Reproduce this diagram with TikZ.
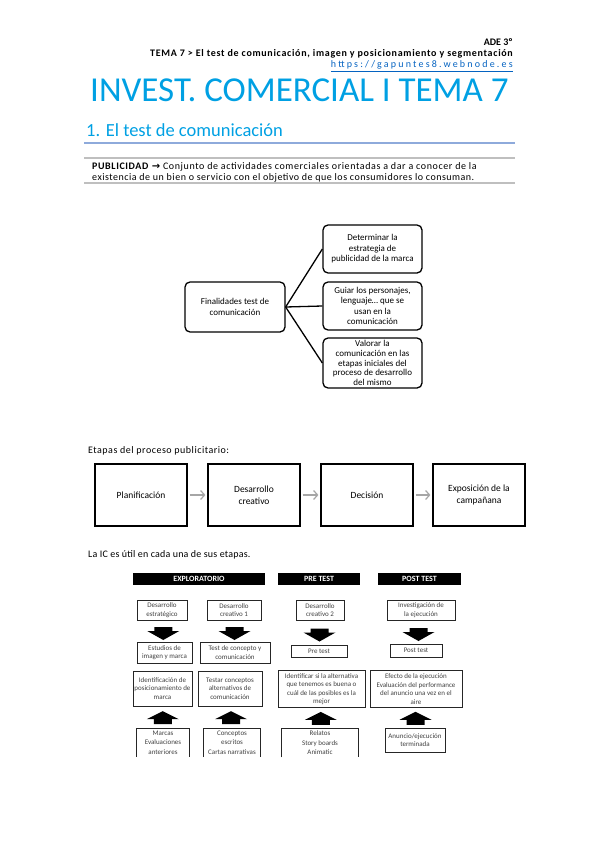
\documentclass[tikz,border=0pt]{standalone}
\usepackage{fontspec}
\setmainfont{Carlito}
\newfontfamily\symfont{DejaVu Sans}
\usetikzlibrary{arrows.meta,calc}
\definecolor{titleblue}{RGB}{0,160,227}
\definecolor{linkblue}{RGB}{5,99,193}
\definecolor{rulegrey}{RGB}{191,191,191}
\definecolor{headblue}{RGB}{142,170,219}
\definecolor{arrowgrey}{RGB}{166,166,166}
\newcommand{\spaced}[1]{\addfontfeature{LetterSpace=#1}}
\begin{document}
\begin{tikzpicture}[x=1pt,y=-1pt,
	line/.style={anchor=base west,inner sep=0pt,font=\fontsize{10}{11}\selectfont},
	head/.style={anchor=base east,inner sep=0pt,font=\bfseries\fontsize{10}{11}\selectfont},
	treebox/.style={draw,line width=1.3pt,rounded corners=5pt,align=center,inner sep=0pt,font=\fontsize{9}{10.5}\selectfont},
	stagebox/.style={draw,line width=1.2pt,minimum width=92pt,minimum height=62pt,align=center,font=\fontsize{9.5}{12}\selectfont},
	stagearrow/.style={draw=arrowgrey,line width=1.2pt,shorten <=2pt,shorten >=2pt,-{Straight Barb[length=4pt,width=9pt]}},
	headbar/.style={fill=black,text=white,minimum height=12pt,inner sep=0pt,font=\bfseries\fontsize{8}{9}\selectfont},
	cell/.style={draw=black!85,line width=0.9pt,align=center,inner sep=0.5pt,text=black!75,font=\fontsize{7}{8.5}\selectfont},
	opencell/.style={align=center,inner sep=2.5pt,anchor=north,text=black!75,font=\fontsize{7}{9.5}\selectfont}]
	\useasboundingbox (0,0) rectangle (599,848);
	% cabecera
	\node[head] (ade) at (513,46) {ADE 3º};
	\node[head] (tema) at (513,57) {\spaced{7}TEMA 7 > El test de comunicación, imagen y posicionamiento y segmentación};
	\node[head,font=\fontsize{10}{11}\selectfont,text=linkblue] (web) at (513,68) {\underline{\spaced{22}https://gapuntes8.webnode.es}};
	\node[line,font=\fontsize{35}{40}\selectfont,text=titleblue] (title) at (90,102) {INVEST. COMERCIAL I TEMA 7};
	\node[line,font=\fontsize{18.5}{22}\selectfont,text=titleblue] (sec) at (86,136) {1. El test de comunicación};
	\draw[headblue,line width=1.5pt] (84,143) -- (515,143);
	\draw[rulegrey,line width=1.5pt] (84,158) -- (515,158);
	\draw[rulegrey,line width=1.5pt] (84,183) -- (515,183);
	\node[line] (def1) at (92,169) {\spaced{6}\textbf{PUBLICIDAD} {\symfont\bfseries →} Conjunto de actividades comerciales orientadas a dar a conocer de la};
	\node[line] (def2) at (92,180) {\spaced{5}existencia de un bien o servicio con el objetivo de que los consumidores lo consuman.};
	% finalidades
	\node[treebox,minimum width=100pt,minimum height=50pt] (fin) at (235,307) {Finalidades test de\\comunicación};
	\node[treebox,minimum width=99pt,minimum height=48pt] (det) at (372.5,249) {Determinar la\\estrategia de\\publicidad de la marca};
	\node[treebox,minimum width=99pt,minimum height=48pt] (gui) at (372.5,306) {Guiar los personajes,\\lenguaje… que se\\usan en la\\comunicación};
	\node[treebox,minimum width=99pt,minimum height=50pt,font=\fontsize{9}{9.6}\selectfont] (val) at (372.5,363) {Valorar la\\comunicación en las\\etapas iniciales del\\proceso de desarrollo\\del mismo};
	\draw[line width=1.3pt] (fin.east) -- (det.west);
	\draw[line width=1.3pt] (fin.east) -- (gui.west);
	\draw[line width=1.3pt] (fin.east) -- (val.west);
	% etapas
	\node[line] (etapas) at (88,453) {\spaced{5}Etapas del proceso publicitario:};
	\node[stagebox] (plan) at (141,495) {Planificación};
	\node[stagebox] (crea) at (254,495) {Desarrollo\\creativo};
	\node[stagebox] (deci) at (367,495) {Decisión};
	\node[stagebox] (expo) at (479,495) {Exposición de la\\campañana};
	\draw[stagearrow] (plan) -- (crea);
	\draw[stagearrow] (crea) -- (deci);
	\draw[stagearrow] (deci) -- (expo);
	\node[line] (ic) at (88,557) {\spaced{2}La IC es útil en cada una de sus etapas.};
	% tabla
	\node[headbar,minimum width=132pt] (expl) at (199,579) {EXPLORATORIO};
	\node[headbar,minimum width=82pt] (pret) at (319,579) {PRE TEST};
	\node[headbar,minimum width=83pt] (post) at (419.5,579) {POST TEST};
	\node[cell,minimum width=50pt,minimum height=20pt] (dest) at (162,610) {Desarrollo\\estratégico};
	\node[cell,minimum width=54pt,minimum height=20pt] (dcre1) at (234,610) {Desarrollo\\creativo 1};
	\node[cell,minimum width=48pt,minimum height=20pt] (dcre2) at (320,610) {Desarrollo\\creativo 2};
	\node[cell,minimum width=68pt,minimum height=20pt] (iejec) at (421,610) {Investigación de\\la ejecución};
	\node[cell,minimum width=55pt,minimum height=21pt] (estu) at (164.5,652.5) {Estudios de\\imagen y marca};
	\node[cell,minimum width=70pt,minimum height=21pt] (tcon) at (235,652.5) {Test de concepto y\\comunicación};
	\node[cell,minimum width=56pt,minimum height=12pt] (ptest) at (319,651) {Pre test};
	\node[cell,minimum width=52pt,minimum height=13pt] (potest) at (416,650.5) {Post test};
	\node[cell,minimum width=59pt,minimum height=35pt] (ipos) at (162.5,688.5) {Identificación de\\posicionamiento de\\marca};
	\node[cell,minimum width=64pt,minimum height=35pt] (tcal) at (230,688.5) {Testar conceptos\\alternativos de\\comunicación};
	\node[cell,minimum width=87pt,minimum height=37pt] (ialt) at (321.5,689) {Identificar si la alternativa\\que tenemos es buena o\\cuál de las posibles es la\\mejor};
	\node[cell,minimum width=92pt,minimum height=37pt] (efec) at (416,689) {Efecto de la ejecución\\Evaluación del performance\\del anuncio una vez en el\\aire};
	\node[opencell,minimum width=52pt] (marc) at (163,728) {Marcas\\Evaluaciones\\anteriores};
	\node[opencell,minimum width=56pt] (cesc) at (232,728) {Conceptos\\escritos\\Cartas narrativas};
	\node[opencell,minimum width=76pt] (rela) at (320,728) {Relatos\\Story boards\\Animatic};
	\node[cell,minimum width=60pt,minimum height=24pt] (anun) at (415,740) {Anuncio/ejecución\\terminada};
	\foreach \n in {marc,cesc,rela}
		\draw[draw=black!85,line width=0.9pt] (\n.south west) |- (\n.north east) -- (\n.south east);
	% flechas negras
	\foreach \a/\b in {dest/estu,dcre1/tcon,dcre2/ptest,iejec/potest}
		\fill[shift={($(\a.south)!0.5!(\b.north)$)}] (-9,-4) rectangle (9,0) (-16,0) -- (16,0) -- (0,9) -- cycle;
	\foreach \a/\b in {ipos/marc,tcal/cesc,ialt/rela,efec/anun}
		\fill[shift={($(\a.south)!0.5!(\b.north)$)}] (0,-6) -- (16,2) -- (-16,2) -- cycle (-9,2) rectangle (9,7);
\end{tikzpicture}
\end{document}
